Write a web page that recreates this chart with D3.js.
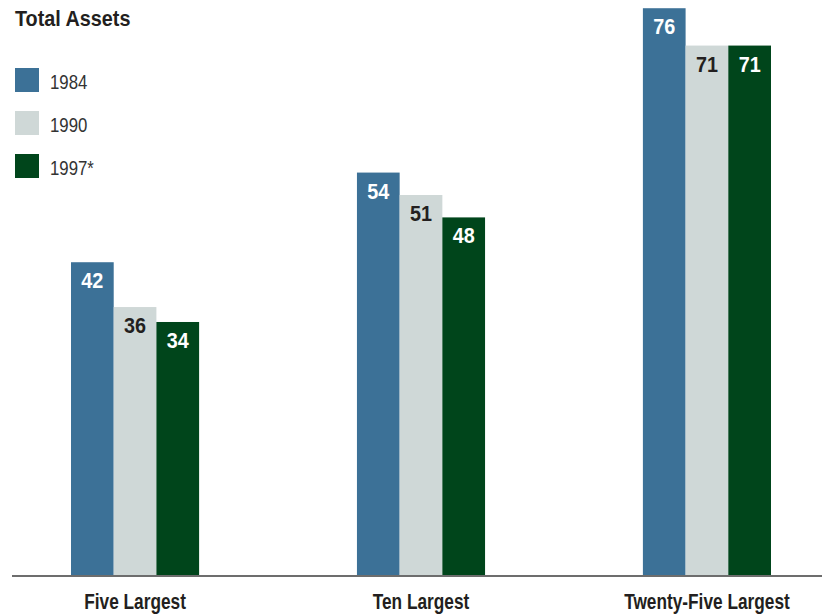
<!DOCTYPE html>
<html>
<head>
<meta charset="utf-8">
<script src="https://cdn.jsdelivr.net/npm/d3@7"></script>
<style>
  body { margin: 0; background: #fff; }
  text { font-family: "Liberation Sans", Arial, sans-serif; }
</style>
</head>
<body>
<svg id="svg"></svg>
<script>
var categories = ["Five Largest", "Ten Largest", "Twenty-Five Largest"];
var years = ["1984", "1990", "1997*"];
var values1984 = [42, 54, 76];
var values1990 = [36, 51, 71];
var values1997 = [34, 48, 71];

var colors = ["#3c7197", "#cfd8d7", "#00451b"];
var labelColors = ["#ffffff", "#231f20", "#ffffff"];

var width = 822, height = 616;
var baseline = 576;

var svg = d3.select("#svg").attr("width", width).attr("height", height);

var series = [values1984, values1990, values1997];
var rows = [];
categories.forEach((c, i) => {
	years.forEach((y, j) => {
		rows.push({cat: c, year: y, idx: j, value: series[j][i]});
	});
});

var xScale = d3.scaleBand().domain(categories).range([71, 771]).paddingInner(0.552).paddingOuter(0);
var xInner = d3.scaleBand().domain(years).range([0, xScale.bandwidth()]);
var yScale = d3.scaleLinear().domain([0, 77.1]).range([baseline, 0]);

// bars
svg.append("g").selectAll("rect")
	.data(rows)
	.enter()
	.append("rect")
	.attr("x", d => xScale(d.cat) + xInner(d.year))
	.attr("y", d => yScale(d.value))
	.attr("width", xInner.bandwidth())
	.attr("height", d => baseline - yScale(d.value))
	.style("fill", d => colors[d.idx]);

// value labels inside bar tops (condensed look via horizontal scale)
svg.append("g").selectAll("text")
	.data(rows)
	.enter()
	.append("text")
	.attr("transform", d => `translate(${xScale(d.cat) + xInner(d.year) + xInner.bandwidth() / 2}, ${yScale(d.value) + 26}) scale(0.9,1)`)
	.attr("text-anchor", "middle")
	.style("font-size", "22px")
	.style("font-weight", "bold")
	.style("fill", d => labelColors[d.idx])
	.text(d => d.value);

// baseline axis
var xAxis = svg.append("g").attr("transform", `translate(0, ${baseline})`);
xAxis.call(d3.axisBottom(xScale).tickSize(0));
xAxis.select(".domain").attr("d", "M12,0H822").attr("stroke", "#6d6d6d").attr("stroke-width", 2);
xAxis.selectAll(".tick text")
	.attr("y", 33)
	.attr("dy", null)
	.attr("transform", "scale(0.785,1)")
	.style("font-family", "'Liberation Sans', Arial, sans-serif")
	.style("font-size", "22px")
	.style("font-weight", "bold")
	.style("fill", "#231f20");

// title
svg.append("text")
	.attr("transform", "translate(15, 25.5) scale(0.9,1)")
	.style("font-size", "22px")
	.style("font-weight", "bold")
	.style("fill", "#231f20")
	.text("Total Assets");

// legend
var legend = svg.append("g").selectAll("g")
	.data(years)
	.enter()
	.append("g")
	.attr("transform", (d, i) => `translate(15, ${68 + i * 43})`);
legend.append("rect")
	.attr("width", 24)
	.attr("height", 24)
	.style("fill", (d, i) => colors[i]);
legend.append("text")
	.attr("transform", "translate(35, 21) scale(0.84,1)")
	.style("font-size", "20px")
	.style("fill", "#333333")
	.text(d => d);
</script>
</body>
</html>
